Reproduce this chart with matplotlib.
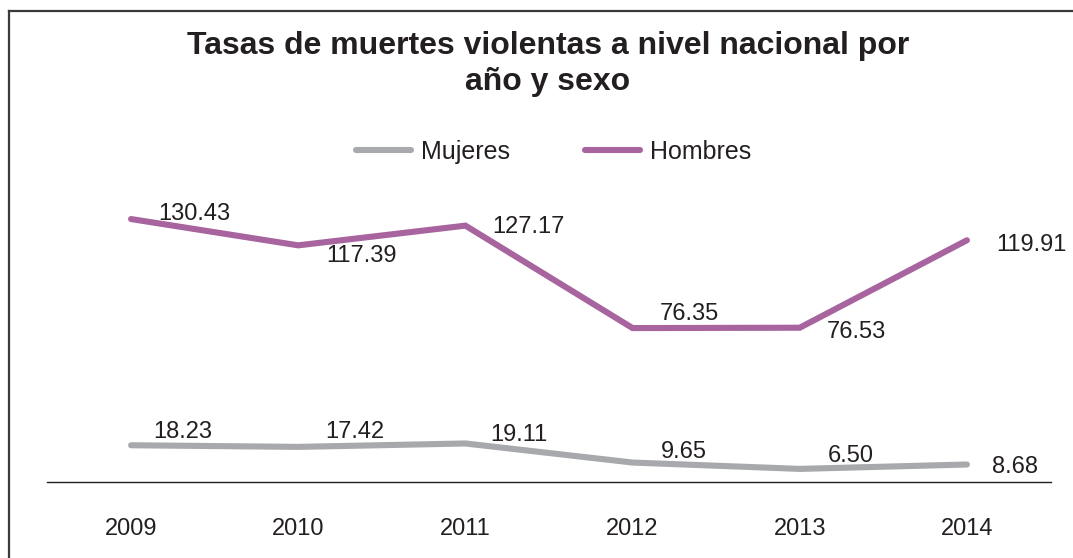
import matplotlib.pyplot as plt
from matplotlib.lines import Line2D

years = ['2009', '2010', '2011', '2012', '2013', '2014']
mujeres = [18.23, 17.42, 19.11, 9.65, 6.50, 8.68]
hombres = [130.43, 117.39, 127.17, 76.35, 76.53, 119.91]

# label offsets in pixels (dx, dy)
off_h = [(27, 5), (28, -11), (27, -1), (27, 14), (27, -4), (29, -5)]
off_m = [(22, 13), (27, 15), (25, 8), (28, 11), (28, 13), (25, -2)]

gray = '#A7A9AC'
purple = '#A8649E'
ink = '#231F20'

plt.rcParams['font.family'] = ['Liberation Sans', 'DejaVu Sans']

fig = plt.figure(figsize=(10.73, 5.58), dpi=100)
ax = fig.add_axes([47.5 / 1073, 1 - 482 / 558, 1003 / 1073, 150 * 2.016 / 558])

x = range(len(years))
ax.plot(x, mujeres, color=gray, lw=4.4, solid_capstyle='round', solid_joinstyle='miter', label='Mujeres')
ax.plot(x, hombres, color=purple, lw=4.4, solid_capstyle='round', solid_joinstyle='miter', label='Hombres')

for i in x:
    ax.annotate(f'{hombres[i]:.2f}', (i, hombres[i]), xytext=off_h[i], textcoords='offset pixels',
                ha='left', va='center', fontsize=17, color=ink)
    ax.annotate(f'{mujeres[i]:.2f}', (i, mujeres[i]), xytext=off_m[i], textcoords='offset pixels',
                ha='left', va='center', fontsize=17, color=ink)

ax.set_xlim(-0.5, 5.5)
ax.set_ylim(0, 150)
ax.set_xticks(list(x))
ax.set_xticklabels(years, fontsize=17, color=ink)
ax.tick_params(axis='x', length=0, pad=26)
ax.set_yticks([])
for s in ['top', 'left', 'right']:
    ax.spines[s].set_visible(False)
ax.spines['bottom'].set_color(ink)
ax.spines['bottom'].set_linewidth(1.0)
ax.patch.set_alpha(0)

fig.text(548 / 1073, 1 - 64 / 558, 'Tasas de muertes violentas a nivel nacional por\naño y sexo',
         ha='center', va='center', fontsize=23, fontweight='bold', color=ink, linespacing=1.3)

leg = ax.legend(loc='center', bbox_to_anchor=(554 / 1073, 1 - 152 / 558), bbox_transform=fig.transFigure,
                ncol=2, frameon=False, fontsize=18, handlelength=2.2, columnspacing=3.0, handletextpad=0.4)
for t in leg.get_texts():
    t.set_color(ink)

# frame around the chart (top and left edges visible)
fig.add_artist(Line2D([9 / 1073, 1], [1 - 11 / 558, 1 - 11 / 558], transform=fig.transFigure, color='#3a3a3a', lw=1.6))
fig.add_artist(Line2D([9 / 1073, 9 / 1073], [0, 1 - 11 / 558], transform=fig.transFigure, color='#3a3a3a', lw=1.6))

fig.savefig('out.png', dpi=100)
